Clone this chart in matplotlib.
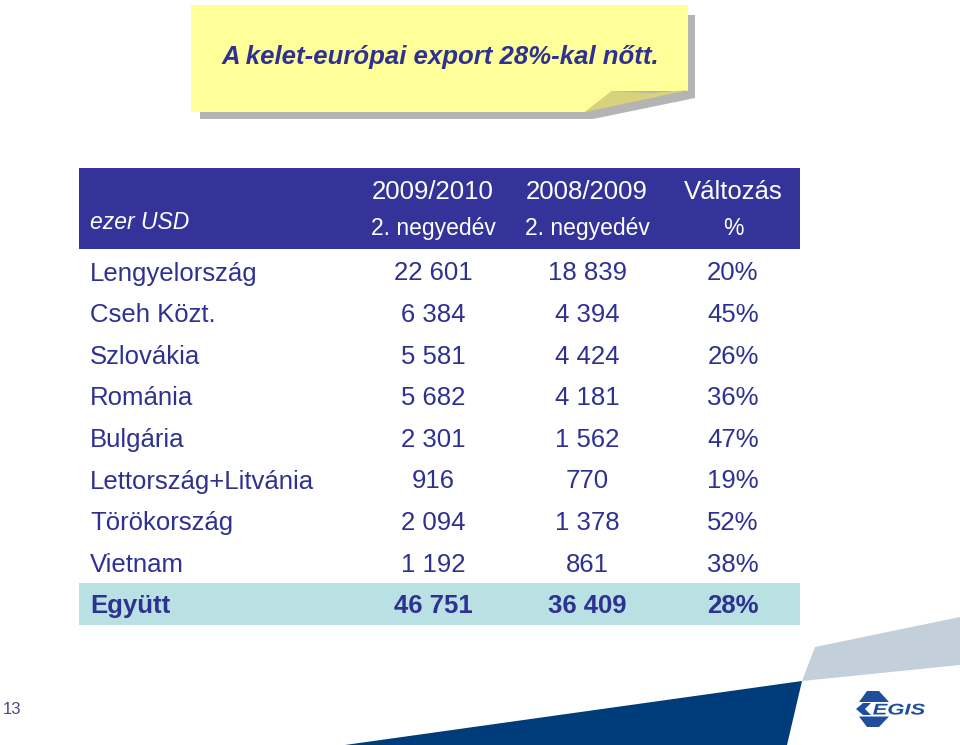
import matplotlib.pyplot as plt
from matplotlib.patches import Polygon, Rectangle, PathPatch
from matplotlib.textpath import TextPath
from matplotlib.font_manager import FontProperties
from matplotlib.transforms import Affine2D
from matplotlib import font_manager

plt.rcParams['font.family'] = ['Liberation Sans', 'DejaVu Sans']

# header second line looks condensed in the original
names = {f.name for f in font_manager.fontManager.ttflist}
if 'Liberation Sans Narrow' in names:
    SUB_FONT, SUB_SIZE = ['Liberation Sans Narrow', 'DejaVu Sans'], 19.5
else:
    SUB_FONT, SUB_SIZE = ['Liberation Sans', 'DejaVu Sans'], 16.5

NAVY = '#2E3192'
HEADER_BG = '#333399'
TOTAL_BG = '#B9E0E3'
LOGO = '#1F4F9C'

title = 'A kelet-európai export 28%-kal nőtt.'
unit_label = 'ezer USD'
col_head_1 = ['2009/2010', '2008/2009', 'Változás']
col_head_2 = ['2. negyedév', '2. negyedév', '%']

countries = ['Lengyelország', 'Cseh Közt.', 'Szlovákia', 'Románia', 'Bulgária',
             'Lettország+Litvánia', 'Törökország', 'Vietnam']
q2_2010 = ['22 601', '6 384', '5 581', '5 682', '2 301', '916', '2 094', '1 192']
q2_2009 = ['18 839', '4 394', '4 424', '4 181', '1 562', '770', '1 378', '861']
change = ['20%', '45%', '26%', '36%', '47%', '19%', '52%', '38%']
total_row = ['Együtt', '46 751', '36 409', '28%']
page_no = '13'

fig = plt.figure(figsize=(9.6, 7.45), dpi=100)
ax = fig.add_axes([0, 0, 1, 1])
ax.set_xlim(0, 960)
ax.set_ylim(745, 0)
ax.axis('off')

# title note with shadow and folded corner
ax.add_patch(Polygon([(200, 15), (695, 15), (695, 98), (593, 119), (200, 119)],
                     closed=True, fc='#B4B4B4', ec='none'))
ax.add_patch(Polygon([(191, 5), (688, 5), (688, 91), (612, 91), (585, 112), (191, 112)],
                     closed=True, fc='#FFFF99', ec='none'))
ax.add_patch(Polygon([(585, 112), (612, 91), (650, 93), (689, 90)],
                     closed=True, fc='#D8D27A', ec='none'))
ax.text(440, 64, title, ha='center', va='baseline', fontsize=18.5,
        fontweight='bold', fontstyle='italic', color=NAVY)

# table
col_x = [433, 587, 733]
ax.add_patch(Rectangle((79, 168), 721, 81, fc=HEADER_BG, ec='none'))
ax.text(90, 229, unit_label, ha='left', va='baseline', fontsize=SUB_SIZE,
        fontstyle='italic', color='white', family=SUB_FONT)
for x, h1, h2 in zip(col_x, col_head_1, col_head_2):
    ax.text(x, 199, h1, ha='center', va='baseline', fontsize=18.5, color='white')
    ax.text(x, 235, h2, ha='center', va='baseline', fontsize=SUB_SIZE,
            color='white', family=SUB_FONT)

y0, dy = 280.5, 41.6
for i, (c, a, b, p) in enumerate(zip(countries, q2_2010, q2_2009, change)):
    y = y0 + i * dy
    ax.text(90, y, c, ha='left', va='baseline', fontsize=18.5, color=NAVY)
    for x, v in zip(col_x, [a, b, p]):
        ax.text(x, y, v, ha='center', va='baseline', fontsize=18.5, color=NAVY)

ax.add_patch(Rectangle((79, 583), 721, 42, fc=TOTAL_BG, ec='none'))
y = y0 + len(countries) * dy
ax.text(90, y, total_row[0], ha='left', va='baseline', fontsize=18.5,
        fontweight='bold', color=NAVY)
for x, v in zip(col_x, total_row[1:]):
    ax.text(x, y, v, ha='center', va='baseline', fontsize=18.5,
            fontweight='bold', color=NAVY)

# footer decoration
ax.add_patch(Polygon([(815, 647), (960, 617), (960, 665), (802, 681)],
                     closed=True, fc='#C3CFDB', ec='none'))
ax.add_patch(Polygon([(345, 745), (802, 681), (787, 745)],
                     closed=True, fc='#003B7A', ec='none'))

# logo: hexagon split by a white band, chevron on the left, wide text
ax.add_patch(Polygon([(867, 691), (879, 691), (889, 702), (859, 702)],
                     closed=True, fc=LOGO, ec='none'))
ax.add_patch(Polygon([(859, 716.5), (889, 716.5), (879, 727), (867, 727)],
                     closed=True, fc=LOGO, ec='none'))
ax.add_patch(Polygon([(856, 709), (863, 703), (871, 703), (865, 709), (871, 715), (863, 715)],
                     closed=True, fc=LOGO, ec='none'))
tp = TextPath((0, 0), 'EGIS', size=1,
              prop=FontProperties(family='Liberation Sans', weight='bold', style='italic'))
ext = tp.get_extents()
sx = 52 / ext.width
sy = 11 / ext.height
tr = Affine2D().translate(-ext.x0, 0).scale(sx, -sy).translate(873, 714.5)
ax.add_patch(PathPatch(tr.transform_path(tp), fc=LOGO, ec='none'))

ax.text(12, 714, page_no, ha='center', va='baseline', fontsize=12, color='#4A4A80')

fig.savefig('out.png', dpi=100)
